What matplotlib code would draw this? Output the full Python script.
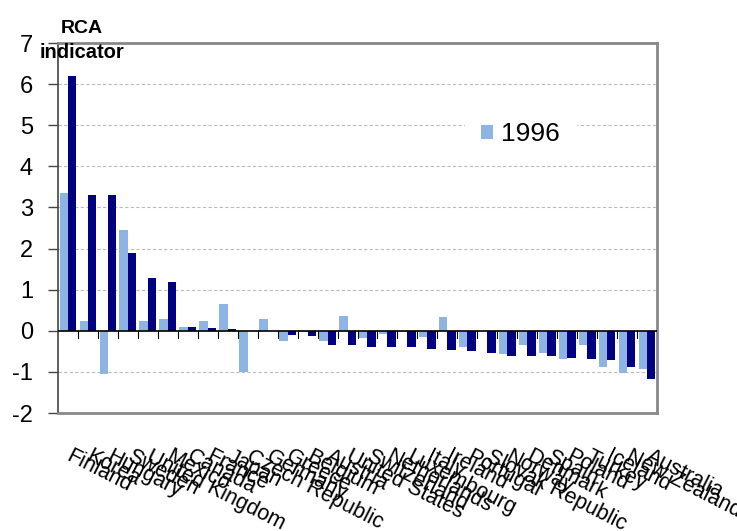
import matplotlib
matplotlib.use("Agg")
import matplotlib.pyplot as plt
import numpy as np

countries = ["Finland", "Korea", "Hungary", "Sweden", "United Kingdom", "Mexico",
             "Canada", "France", "Japan", "Czech Republic", "Germany", "Greece",
             "Belgium", "Austria", "United States", "Switzerland", "Netherlands",
             "Luxembourg", "Italy", "Ireland", "Portugal", "Slovak Republic",
             "Norway", "Denmark", "Spain", "Poland", "Turkey", "Iceland",
             "New Zealand", "Australia"]
rca_1996 = [3.35, 0.24, -1.05, 2.44, 0.24, 0.28, 0.09, 0.25, 0.66, -1.0, 0.28, -0.24,
            -0.03, -0.24, 0.35, -0.18, -0.08, -0.03, -0.15, 0.33, -0.4, -0.01,
            -0.57, -0.34, -0.53, -0.68, -0.34, -0.89, -1.03, -0.92]
rca_later = [6.2, 3.31, 3.31, 1.9, 1.28, 1.18, 0.09, 0.06, 0.04, 0.0, 0.0, -0.1,
             -0.12, -0.34, -0.34, -0.4, -0.4, -0.4, -0.44, -0.46, -0.5, -0.53,
             -0.62, -0.62, -0.62, -0.65, -0.68, -0.71, -0.87, -1.18]
yticks = [-2, -1, 0, 1, 2, 3, 4, 5, 6, 7]

light = "#8DB4E2"
dark = "#000080"
font = "Liberation Sans"

fig = plt.figure(figsize=(7.37, 5.31), dpi=100)
ax = fig.add_axes([58/737, 1-413/531, 599/737, 370/531])

x = np.arange(len(countries))
w = 0.42
ax.bar(x - w/2, rca_1996, width=w, color=light, label="1996", zorder=3)
ax.bar(x + w/2, rca_later, width=w, color=dark, label="_nolegend_", zorder=3)

ax.set_xlim(-0.5, len(countries) - 0.5)
ax.set_ylim(-2, 7)
ax.set_yticks(yticks)
ax.set_yticklabels([str(t) for t in yticks], fontsize=17, family=font)
ax.tick_params(axis="y", direction="out", length=7, width=1, color="#444444", pad=11)

for t in [-1, 1, 2, 3, 4, 5, 6]:
    ax.axhline(t, color="#BBBBBB", lw=0.8, ls=(0, (3, 2)), zorder=1)
ax.axhline(0, color="black", lw=1.2, zorder=4)

# x ticks at category boundaries on the zero line
for b in np.arange(0.5, len(countries) - 0.5, 1.0):
    ax.plot([b, b], [0, -0.17], color="black", lw=0.8, zorder=4)
ax.set_xticks([])

for s in ["top", "right", "bottom"]:
    ax.spines[s].set_color("#888888")
    ax.spines[s].set_linewidth(2)
ax.spines["left"].set_color("#444444")
ax.spines["left"].set_linewidth(1.2)

for i, name in enumerate(countries):
    ax.text(i + 0.25, -2.8, name, rotation=-27, rotation_mode="anchor",
            ha="left", va="top", fontsize=15.5, family=font, clip_on=False)

leg = ax.legend(loc="center", bbox_to_anchor=(0.772, 0.754), frameon=True,
                handlelength=0.45, handleheight=0.45,
                handletextpad=0.3, borderpad=0.6,
                prop={"family": font, "size": 19})
leg.get_frame().set_edgecolor("white")
leg.get_frame().set_facecolor("white")
leg.get_frame().set_alpha(1)
leg.set_zorder(5)

fig.text(82/737, 1-33/531, "RCA", fontsize=14, fontweight="bold",
         ha="center", va="baseline", family=font)
fig.text(82/737, 1-58/531, "indicator", fontsize=14.5, fontweight="bold",
         ha="center", va="baseline", family=font)

fig.savefig("out.png", dpi=100)
